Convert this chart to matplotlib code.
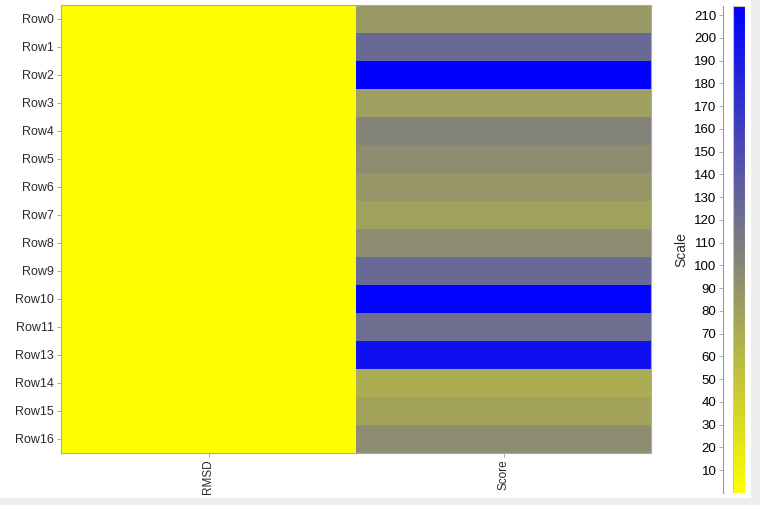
import numpy as np
import matplotlib
matplotlib.use('Agg')
import matplotlib.pyplot as plt
from matplotlib.colors import LinearSegmentedColormap
from matplotlib.patches import Rectangle

plt.rcParams['font.family'] = ['Liberation Sans', 'DejaVu Sans']

# ─────────────────────────────
# DATI
# ─────────────────────────────
ROWS    = ["Row0", "Row1", "Row2", "Row3", "Row4", "Row5", "Row6", "Row7",
           "Row8", "Row9", "Row10", "Row11", "Row13", "Row14", "Row15", "Row16"]
COLUMNS = ["RMSD", "Score"]

rmsd  = [1.2, 1.5, 0.9, 1.1, 1.4, 1.3, 1.0, 1.2,
         1.6, 1.1, 0.8, 1.3, 1.0, 1.2, 1.4, 1.5]
score = [86, 126, 214, 81, 103, 96, 88, 79,
         96, 126, 213, 122, 201, 70, 77, 96]

VMIN, VMAX = 0, 214
CB_TICKS = list(range(10, 220, 10))

# ─────────────────────────────
# FIGURA
# ─────────────────────────────
W, H = 760, 505
fig = plt.figure(figsize=(W / 100, H / 100), dpi=100)
fig.patch.set_facecolor("#EEEEEE")
fig.patches.append(Rectangle((0, (H - 498) / H), 751 / W, 498 / H,
                             transform=fig.transFigure, facecolor="white",
                             edgecolor="none", zorder=-10))

cmap = LinearSegmentedColormap.from_list("yb", ["#FFFF00", "#0000FF"])

def fbox(x0, y0, x1, y1):
    return [x0 / W, (H - y1) / H, (x1 - x0) / W, (y1 - y0) / H]

ax = fig.add_axes(fbox(61, 5, 651, 452.5))
data = np.column_stack([rmsd, score])
ax.pcolormesh(np.arange(len(COLUMNS) + 1), np.arange(len(ROWS) + 1), data,
              cmap=cmap, vmin=VMIN, vmax=VMAX, shading='flat')
ax.set_ylim(len(ROWS), 0)
ax.set_xlim(0, len(COLUMNS))
ax.set_yticks(np.arange(len(ROWS)) + 0.5)
ax.set_yticklabels(ROWS, color="#2A2A2A")
ax.set_xticks(np.arange(len(COLUMNS)) + 0.5)
ax.set_xticklabels(COLUMNS, rotation=90, color="#2A2A2A")
ax.tick_params(axis='y', labelsize=9, length=3, width=0.6, color="#999999", pad=2)
ax.tick_params(axis='x', labelsize=8.5, length=3, width=0.6, color="#999999", pad=2)
for sp in ax.spines.values():
    sp.set_color("#AAAAAA")
    sp.set_linewidth(0.8)

# colorbar
cax = fig.add_axes(fbox(733, 6, 745, 493))
grad = np.linspace(VMIN, VMAX, 256).reshape(-1, 1)
cax.imshow(grad, aspect='auto', cmap=cmap, origin='lower',
           extent=[0, 1, VMIN, VMAX], vmin=VMIN, vmax=VMAX)
cax.set_xlim(0, 1)
cax.set_ylim(VMIN, VMAX)
cax.set_xticks([])
cax.set_yticks(CB_TICKS)
cax.set_yticklabels([str(t) for t in CB_TICKS], color="#2A2A2A")
cax.tick_params(axis='y', labelsize=9.5, length=3, width=0.6, color="#999999", pad=2)
for name in ['top', 'right', 'bottom']:
    cax.spines[name].set_visible(False)
cax.spines['left'].set_position(('outward', 7))
cax.spines['left'].set_color("#999999")
cax.spines['left'].set_linewidth(0.8)
cax.add_patch(Rectangle((0, VMIN), 1, VMAX - VMIN, fill=False,
                        edgecolor="#C8C8A8", linewidth=0.8))
cax.set_ylabel("Scale", fontsize=10, color="#2A2A2A", labelpad=4)

fig.savefig("out.png", dpi=100, facecolor=fig.get_facecolor())
